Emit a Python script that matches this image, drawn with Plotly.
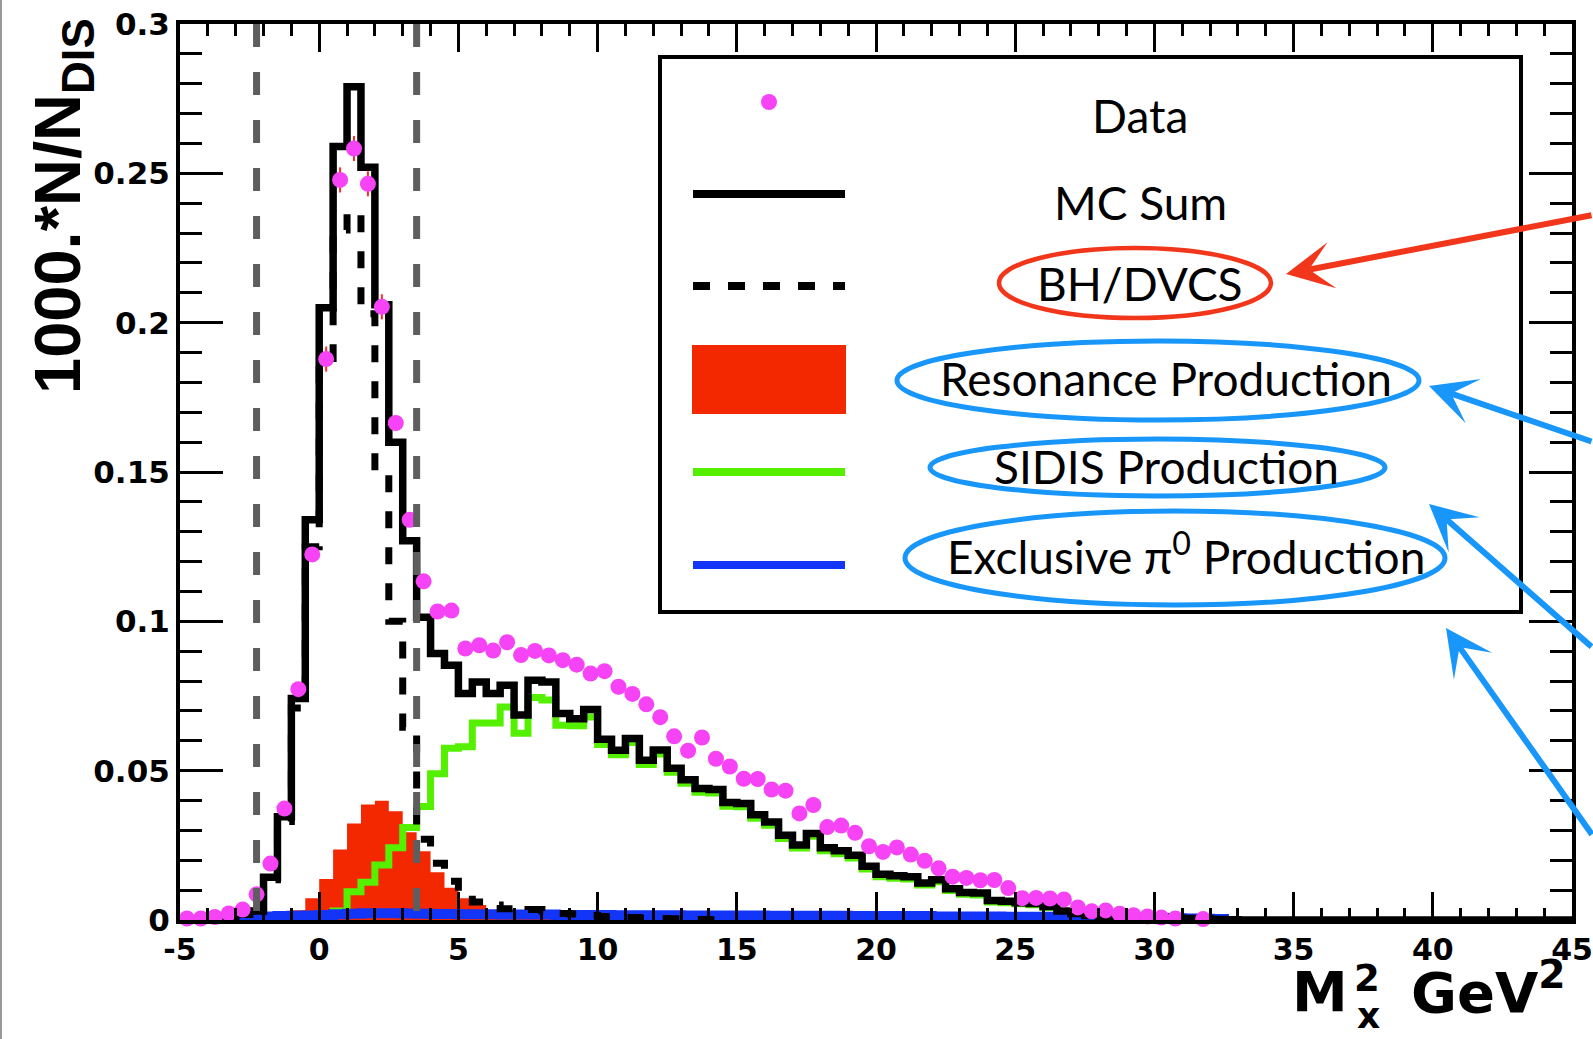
import numpy as np
import plotly.graph_objects as go

# ---------------- data (bins of 0.5 GeV^2 from -5 to 45) ----------------
X_MIN, X_MAX, BIN_W = -5.0, 45.0, 0.5

mc_sum = [
    0, 0, 0.0005, 0.001, 0.002, 0.003, 0.0143, 0.0346, 0.0742, 0.134,
    0.205, 0.259, 0.279, 0.252, 0.206, 0.160, 0.127, 0.1014, 0.0892, 0.0853,
    0.0758, 0.0797, 0.0758, 0.0786, 0.0686, 0.0803, 0.0797, 0.0691, 0.0674, 0.0705,
    0.0605, 0.0568, 0.0608, 0.0535, 0.0569, 0.0508, 0.047, 0.044, 0.0437, 0.0393,
    0.039, 0.0352, 0.0328, 0.0284, 0.0251, 0.029, 0.0242, 0.0232, 0.0217, 0.018,
    0.0153, 0.0148, 0.0145, 0.0124, 0.0135, 0.0105, 0.0092, 0.009, 0.0065, 0.0063,
    0.0058, 0.0055, 0.0045, 0.003, 0.0022, 0.0015, 0.0012, 0.001, 0.001, 0.0008,
    0.0008, 0.0006, 0.0005, 0.0004, 0.0002, 0.0001, 0, 0, 0, 0,
    0, 0, 0, 0, 0, 0, 0, 0, 0, 0,
    0, 0, 0, 0, 0, 0, 0, 0, 0, 0,
]

bh_dvcs = [
    0, 0, 0.0003, 0.001, 0.0018, 0.003, 0.0135, 0.033, 0.071, 0.125,
    0.188, 0.231, 0.237, 0.203, 0.150, 0.100, 0.0645, 0.027, 0.019, 0.013,
    0.0085, 0.006, 0.005, 0.0038, 0.003, 0.0035, 0.003, 0.0022, 0.002, 0.0015,
    0.0012, 0.001, 0.0008, 0.0006, 0.0005, 0.0004, 0.0003, 0.0002, 0.0001, 0,
    0, 0, 0, 0, 0, 0, 0, 0, 0, 0,
    0, 0, 0, 0, 0, 0, 0, 0, 0, 0,
    0, 0, 0, 0, 0, 0, 0, 0, 0, 0,
    0, 0, 0, 0, 0, 0, 0, 0, 0, 0,
    0, 0, 0, 0, 0, 0, 0, 0, 0, 0,
    0, 0, 0, 0, 0, 0, 0, 0, 0, 0,
]

resonance = [
    0, 0, 0, 0, 0, 0, 0.0005, 0.0015, 0.0033, 0.0073,
    0.0137, 0.0236, 0.0323, 0.0387, 0.0399, 0.0364, 0.0294, 0.023, 0.016, 0.0108,
    0.0073, 0.005, 0.0033, 0.0027, 0.002, 0.0015, 0.0012, 0.001, 0.0008, 0.0006,
    0.0005, 0.0004, 0.0003, 0.0002, 0.0002, 0.0001, 0, 0, 0, 0,
    0, 0, 0, 0, 0, 0, 0, 0, 0, 0,
    0, 0, 0, 0, 0, 0, 0, 0, 0, 0,
    0, 0, 0, 0, 0, 0, 0, 0, 0, 0,
    0, 0, 0, 0, 0, 0, 0, 0, 0, 0,
    0, 0, 0, 0, 0, 0, 0, 0, 0, 0,
    0, 0, 0, 0, 0, 0, 0, 0, 0, 0,
]

sidis = [
    0, 0, 0, 0, 0, 0, 0, 0, 0, 0.0005,
    0.0015, 0.003, 0.0095, 0.0126, 0.0184, 0.0242, 0.031, 0.038, 0.049, 0.0575,
    0.058, 0.066, 0.066, 0.0713, 0.0625, 0.0745, 0.0737, 0.0652, 0.065, 0.068,
    0.0588, 0.0553, 0.0594, 0.0521, 0.0556, 0.0495, 0.0458, 0.0428, 0.0425, 0.0381,
    0.0379, 0.0341, 0.0317, 0.0273, 0.0241, 0.028, 0.0232, 0.0222, 0.0208, 0.0171,
    0.0145, 0.014, 0.0137, 0.0117, 0.0128, 0.0099, 0.0086, 0.0084, 0.006, 0.0058,
    0.0054, 0.0051, 0.0042, 0.0027, 0.002, 0.0013, 0.001, 0.0008, 0.0008, 0.0006,
    0.0006, 0.0004, 0.0003, 0.0002, 0.0001, 0, 0, 0, 0, 0,
    0, 0, 0, 0, 0, 0, 0, 0, 0, 0,
    0, 0, 0, 0, 0, 0, 0, 0, 0, 0,
]

pi0 = [
    0, 0, 0, 0.0008, 0.001, 0.0011, 0.0012, 0.0013, 0.0014, 0.0015,
    0.0017, 0.0019, 0.0021, 0.0023, 0.0023, 0.0023, 0.0022, 0.0021, 0.002, 0.002,
    0.0019, 0.0019, 0.0019, 0.0018, 0.0018, 0.0018, 0.0018, 0.0017, 0.0017, 0.0017,
    0.0017, 0.0016, 0.0016, 0.0016, 0.0016, 0.0016, 0.0015, 0.0015, 0.0015, 0.0015,
    0.0015, 0.0015, 0.0014, 0.0014, 0.0014, 0.0014, 0.0014, 0.0014, 0.0013, 0.0013,
    0.0013, 0.0013, 0.0013, 0.0013, 0.0012, 0.0012, 0.0012, 0.0012, 0.0012, 0.0011,
    0.0011, 0.0011, 0.0011, 0.001, 0.001, 0.001, 0.0009, 0.0009, 0.0008, 0.0008,
    0.0007, 0.0006, 0.0005, 0.0004, 0.0003, 0, 0, 0, 0, 0,
    0, 0, 0, 0, 0, 0, 0, 0, 0, 0,
    0, 0, 0, 0, 0, 0, 0, 0, 0, 0,
]

data_y = [
    0.0005, 0.0005, 0.001, 0.0022, 0.0035, 0.0086, 0.0189, 0.0373, 0.0773, 0.1224,
    0.1878, 0.2478, 0.2583, 0.2465, 0.2053, 0.1664, 0.134, 0.1134, 0.1033, 0.1036,
    0.0909, 0.092, 0.0902, 0.093, 0.0887, 0.0901, 0.0886, 0.087, 0.0855, 0.0825,
    0.0833, 0.0781, 0.0757, 0.0722, 0.0679, 0.0615, 0.0567, 0.0611, 0.054, 0.0514,
    0.0473, 0.0472, 0.0437, 0.0433, 0.0357, 0.0385, 0.0311, 0.0316, 0.0292, 0.0247,
    0.0228, 0.0243, 0.0219, 0.0198, 0.0173, 0.0145, 0.0141, 0.0133, 0.0134, 0.0107,
    0.0073, 0.0074, 0.0072, 0.0069, 0.0042, 0.0029, 0.0032, 0.0021, 0.0016, 0.0012,
    0.0008, 0.0005, None, 0.0003, None, None, None, None, None, None,
    None, None, None, None, None, None, None, None, None, None,
    None, None, None, None, None, None, None, None, None, None,
]

data_err = [
    0.0005, 0.0005, 0.0006, 0.0008, 0.001, 0.0015, 0.002, 0.002, 0.002, 0.002,
    0.0042, 0.0042, 0.0042, 0.0042, 0.0042, 0.002, 0.002, 0.002, 0.002, 0.002,
] + [0.0015] * 80

x_ticks = [-5, 0, 5, 10, 15, 20, 25, 30, 35, 40, 45]
x_tick_text = ["-5", "0", "5", "10", "15", "20", "25", "30", "35", "40", "45"]
y_ticks = [0, 0.05, 0.1, 0.15, 0.2, 0.25, 0.3]
y_tick_text = ["0", "0.05", "0.1", "0.15", "0.2", "0.25", "0.3"]
cut_lines = [-2.25, 3.5]

legend_labels = ["Data", "MC Sum", "BH/DVCS", "Resonance Production",
                 "SIDIS Production", "Exclusive π<sup>0</sup> Production"]

# ---------------- styles ----------------
C_DATA = "#f543f5"
C_RED = "#f42800"
C_GREEN = "#55f000"
C_BLUE = "#1335f7"
C_GRAY = "#5e5e5e"
C_ELL_BLUE = "#1896fa"
C_ELL_RED = "#f2361c"

edges = np.arange(X_MIN, X_MAX + BIN_W / 2, BIN_W)
centers = edges[:-1] + BIN_W / 2


def step_full(vals):
    x = list(edges)
    y = list(vals) + [vals[-1]]
    return x, y


def step_trim(vals):
    nz = [i for i, v in enumerate(vals) if v]
    a, b = nz[0], nz[-1]
    x = [edges[a]] + list(edges[a:b + 2]) + [edges[b + 1]]
    y = [0] + list(vals[a:b + 1]) + [vals[b], 0]
    return x, y


fig = go.Figure()

xr, yr = step_trim(resonance)
fig.add_trace(go.Scatter(x=xr, y=yr, mode="lines", line=dict(shape="hv", width=0, color=C_RED),
                         fill="tozeroy", fillcolor=C_RED, showlegend=False, hoverinfo="skip"))
xs, ys = step_trim(sidis)
fig.add_trace(go.Scatter(x=xs, y=ys, mode="lines", line=dict(shape="hv", width=7, color=C_GREEN),
                         showlegend=False, hoverinfo="skip"))
xp, yp = step_trim(pi0)
fig.add_trace(go.Scatter(x=xp, y=yp, mode="lines", line=dict(shape="hv", width=10, color=C_BLUE),
                         showlegend=False, hoverinfo="skip"))
xb, yb = step_trim(bh_dvcs)
fig.add_trace(go.Scatter(x=xb, y=yb, mode="lines",
                         line=dict(shape="hv", width=7, color="black", dash="17px,19px"),
                         showlegend=False, hoverinfo="skip"))
xm, ym = step_full(mc_sum)
fig.add_trace(go.Scatter(x=xm, y=ym, mode="lines", line=dict(shape="hv", width=7.5, color="black"),
                         showlegend=False, hoverinfo="skip"))
fig.add_trace(go.Scatter(x=centers, y=data_y, mode="markers",
                         marker=dict(size=16, color=C_DATA, line=dict(width=0)),
                         error_y=dict(type="data", array=data_err, color="#ff2a2a", thickness=2, width=0),
                         cliponaxis=False, showlegend=False, hoverinfo="skip"))

# ---------------- layout helpers (pixel -> paper) ----------------
L, R, T, B = 180, 1572, 24, 920
W, H = R - L, B - T


def px(x):
    return (x - L) / W


def py(y):
    return (B - y) / H


shapes = []
for xv in cut_lines:
    shapes.append(dict(type="line", xref="x", yref="y", x0=xv, x1=xv, y0=0.3, y1=0,
                       line=dict(color=C_GRAY, width=7, dash="23px,25px"), layer="above"))

# legend box and symbols
shapes.append(dict(type="rect", xref="paper", yref="paper", x0=px(660), x1=px(1521), y0=py(612), y1=py(57),
                   line=dict(color="black", width=4), fillcolor="rgba(0,0,0,0)", layer="above"))
shapes.append(dict(type="circle", xref="paper", yref="paper", x0=px(761), x1=px(777), y0=py(110), y1=py(94),
                   line=dict(width=0), fillcolor=C_DATA, layer="above"))
shapes.append(dict(type="line", xref="paper", yref="paper", x0=px(693), x1=px(845), y0=py(194), y1=py(194),
                   line=dict(color="black", width=8), layer="above"))
shapes.append(dict(type="line", xref="paper", yref="paper", x0=px(693), x1=px(845), y0=py(286), y1=py(286),
                   line=dict(color="black", width=8, dash="17px,18px"), layer="above"))
shapes.append(dict(type="rect", xref="paper", yref="paper", x0=px(692), x1=px(846), y0=py(414), y1=py(345),
                   line=dict(width=0), fillcolor=C_RED, layer="above"))
shapes.append(dict(type="line", xref="paper", yref="paper", x0=px(693), x1=px(845), y0=py(472), y1=py(472),
                   line=dict(color=C_GREEN, width=8), layer="above"))
shapes.append(dict(type="line", xref="paper", yref="paper", x0=px(693), x1=px(845), y0=py(565), y1=py(565),
                   line=dict(color=C_BLUE, width=8), layer="above"))

# highlight ellipses
shapes.append(dict(type="circle", xref="paper", yref="paper", x0=px(999), x1=px(1271), y0=py(318), y1=py(248),
                   line=dict(color=C_ELL_RED, width=4.5), layer="above"))
for (x0, x1, y0, y1) in [(897, 1419, 341, 420), (930, 1385, 439, 496), (905, 1445, 511, 605)]:
    shapes.append(dict(type="circle", xref="paper", yref="paper", x0=px(x0), x1=px(x1), y0=py(y1), y1=py(y0),
                       line=dict(color=C_ELL_BLUE, width=5), layer="above"))

# left border of the slide
shapes.append(dict(type="line", xref="paper", yref="paper", x0=px(1), x1=px(1), y0=py(1039), y1=py(0),
                   line=dict(color="#9a9a9a", width=2), layer="above"))

annotations = []
LEG_FONT = dict(family="Lato", size=46, color="black")
for label, (cx, cy) in zip(legend_labels,
                           [(1140, 116), (1140, 202), (1140, 283), (1166, 379), (1166, 466), (1186, 553)]):
    annotations.append(dict(text=label, xref="paper", yref="paper", x=px(cx), y=py(cy),
                            xanchor="center", yanchor="middle", showarrow=False, font=LEG_FONT))

# arrows (head, tail in pixels)
for (hx, hy, tx, ty, col) in [(1286, 274, 1593, 215, C_ELL_RED),
                              (1429, 386, 1593, 442, C_ELL_BLUE),
                              (1429, 504, 1593, 648, C_ELL_BLUE),
                              (1446, 628, 1593, 836, C_ELL_BLUE)]:
    annotations.append(dict(text="", xref="paper", yref="paper", x=px(hx), y=py(hy),
                            ax=tx - hx, ay=ty - hy, showarrow=True, arrowhead=3, arrowsize=1.3,
                            arrowwidth=6, arrowcolor=col, standoff=0))

TITLE_FONT = dict(family="DejaVu Sans", size=56, color="black", weight="bold")
annotations.append(dict(text="M", xref="paper", yref="paper", x=px(1350), y=py(991),
                        xanchor="right", yanchor="middle", showarrow=False, font=TITLE_FONT))
annotations.append(dict(text="2", xref="paper", yref="paper", x=px(1367), y=py(979),
                        xanchor="center", yanchor="middle", showarrow=False,
                        font=dict(family="DejaVu Sans", size=37, color="black", weight="bold")))
annotations.append(dict(text="x", xref="paper", yref="paper", x=px(1368), y=py(1015),
                        xanchor="center", yanchor="middle", showarrow=False,
                        font=dict(family="DejaVu Sans", size=36, color="black", weight="bold")))
annotations.append(dict(text="GeV<sup>2</sup>", xref="paper", yref="paper", x=px(1568), y=py(988),
                        xanchor="right", yanchor="middle", showarrow=False, font=TITLE_FONT))
annotations.append(dict(text="1000.*N/N<sub>DIS</sub>", xref="paper", yref="paper", x=px(62), y=py(206),
                        xanchor="center", yanchor="middle", textangle=-90, showarrow=False,
                        font=dict(family="Liberation Sans, Arial", size=65, color="black", weight="bold")))

X_TICK_FONT = dict(family="DejaVu Sans", size=30, color="black", weight="bold")
Y_TICK_FONT = dict(family="DejaVu Sans", size=31, color="black", weight="bold")

fig.update_layout(
    width=1593, height=1039,
    margin=dict(l=L, r=1593 - R, t=T, b=1039 - B, autoexpand=False),
    paper_bgcolor="white", plot_bgcolor="white",
    showlegend=False,
    shapes=shapes, annotations=annotations,
    xaxis=dict(range=[X_MIN, X_MAX], tickmode="array", tickvals=x_ticks, ticktext=x_tick_text,
               ticks="inside", ticklen=28, tickwidth=3, tickcolor="black",
               minor=dict(tickmode="linear", tick0=0, dtick=1, ticks="inside", ticklen=12,
                          tickwidth=3, tickcolor="black", showgrid=False),
               showline=True, linewidth=4, linecolor="black", mirror="ticks",
               showgrid=False, zeroline=False, tickfont=X_TICK_FONT),
    yaxis=dict(range=[0, 0.3], tickmode="array", tickvals=y_ticks, ticktext=y_tick_text,
               ticks="inside", ticklen=43, tickwidth=3, tickcolor="black",
               minor=dict(tickmode="linear", tick0=0, dtick=0.01, ticks="inside", ticklen=22,
                          tickwidth=3, tickcolor="black", showgrid=False),
               showline=True, linewidth=4, linecolor="black", mirror="ticks",
               showgrid=False, zeroline=False, tickfont=Y_TICK_FONT),
)

fig.write_html("out.html")
